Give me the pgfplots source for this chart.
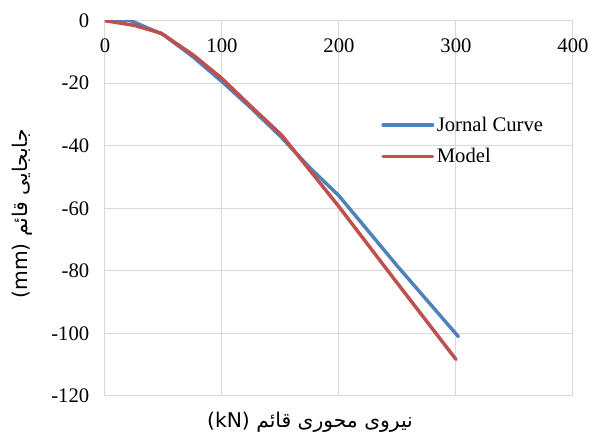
\documentclass[border=0pt]{standalone}
\usepackage{pgfplots}
\pgfplotsset{compat=1.18}
\usepackage{fontspec}
\setmainfont{Liberation Serif}
\newfontfamily\arabicfont[Script=Arabic]{DejaVu Sans}
\TeXXeTstate=1
\definecolor{jblue}{RGB}{79,129,189}
\definecolor{mred}{RGB}{192,80,77}
\definecolor{gridc}{RGB}{217,217,217}
\begin{document}
\begin{tikzpicture}
\useasboundingbox (-78.75pt,-32.25pt) rectangle (363.75pt,297pt);
\begin{axis}[
  at={(0pt,0pt)}, anchor=south west,
  scale only axis, width=351pt, height=281.5pt,
  xmin=0, xmax=400, ymin=-120, ymax=0,
  xtick={0,100,200,300,400},
  ytick={-120,-100,-80,-60,-40,-20,0},
  xticklabel pos=upper,
  xmajorgrids, ymajorgrids,
  grid style={draw=gridc, line width=0.75pt},
  axis line style={draw=gridc, line width=0.75pt},
  major tick length=0pt,
  tick style={draw=none},
  /pgf/number format/assume math mode=true,
  ticklabel style={font=\fontsize{15.5}{16}\selectfont},
  xticklabel style={anchor=north, yshift=-10pt},
  yticklabel style={anchor=east, xshift=-8.3pt},
  xlabel={\arabicfont\fontsize{15.2}{17}\selectfont\beginR نیروی محوری قائم \beginL(kN)\endL\endR},
  xlabel style={at={(axis description cs:0.438,0)}, anchor=center, yshift=-19.5pt},
  ylabel={\arabicfont\fontsize{15.2}{17}\selectfont\beginR جابجایی قائم \beginL(mm)\endL\endR},
  ylabel style={at={(axis description cs:-0.1774,0.485)}, anchor=center},
  legend style={draw=none, fill=none, at={(axis description cs:0.59,0.751)}, anchor=north west,
    font=\fontsize{15.5}{16}\selectfont, row sep=7.3pt, inner sep=0pt},
  legend cell align=left,
  legend image code/.code={\draw[#1, line width=2.6pt, line cap=round] (0pt,0pt) -- (37pt,0pt);},
  every axis plot/.append style={line width=2.6pt, line cap=round, line join=round, no markers},
]
\addplot[color=jblue] coordinates {
 (0,0) (22,0) (50,-4.5) (75,-11.5) (100,-19.5) (125,-28) (150,-37) (175,-47) (200,-56) (250,-78.5) (302,-101)
};
\addlegendentry{Jornal Curve}
\addplot[color=mred] coordinates {
 (0,0) (25,-1.5) (48,-4) (75.5,-11) (100,-18.5) (125,-27.5) (151,-36.6) (200,-59.5) (250,-84) (300,-108.3)
};
\addlegendentry{Model}
\end{axis}
\end{tikzpicture}
\end{document}
